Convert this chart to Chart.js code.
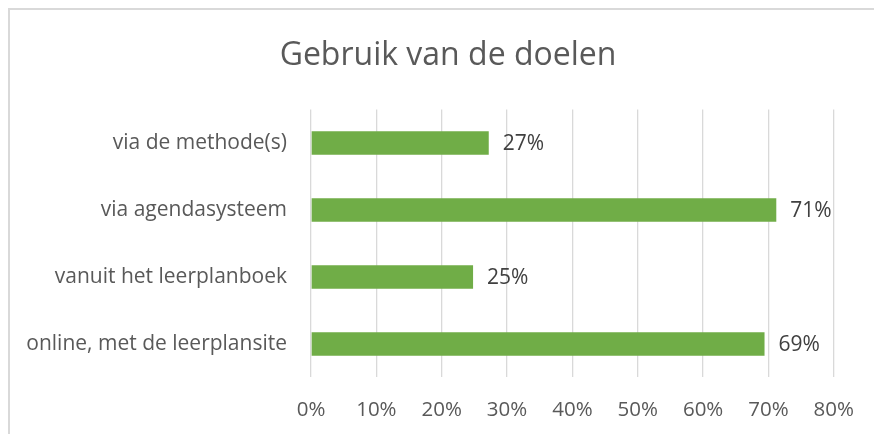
<!DOCTYPE html>
<html>
<head>
<meta charset="utf-8">
<script src="https://cdn.jsdelivr.net/npm/chart.js@4"></script>
<style>
  html, body { margin: 0; padding: 0; background: #fff; overflow: hidden; }
  #wrap { position: relative; width: 874px; height: 434px; }
  #frame { position: absolute; left: 8px; top: 8px; width: 900px; height: 500px;
           border-left: 2px solid #D9D9D9; border-top: 2px solid #D9D9D9; }
  canvas { position: absolute; left: 0; top: 0; }
</style>
</head>
<body>
<div id="wrap">
  <div id="frame"></div>
  <canvas id="Doelen-chart" width="874" height="434"></canvas>
</div>
<script>
const CATEGORIEEN = ["via de methode(s)", "via agendasysteem", "vanuit het leerplanboek", "online, met de leerplansite"];
const WAARDEN = [27.2, 71.2, 24.8, 69.4];
const TICKS = [0, 10, 20, 30, 40, 50, 60, 70, 80];

const GROEN = "#70AD47";
const GRIJS_TEKST = "#595959";
const LINKS = 58;

// labels achter de balken
const waardeLabels = {
    id: "waardeLabels",
    afterDatasetsDraw(chart) {
        const ctx = chart.ctx;
        const meta = chart.getDatasetMeta(0);
        ctx.save();
        ctx.font = "21px 'Open Sans'";
        ctx.fillStyle = "#404040";
        ctx.textAlign = "left";
        ctx.textBaseline = "middle";
        meta.data.forEach((bar, i) => {
            ctx.fillText(Math.round(WAARDEN[i]) + "%", bar.x + 14, bar.y + 1);
        });
        ctx.restore();
    }
};

// lange categorielabels niet afknippen aan de linkerkant
const geenKnip = {
    id: "geenKnip",
    afterLayout(chart) {
        chart.scales.y.left = 0;
    }
};

var ctx1 = document.getElementById("Doelen-chart").getContext("2d");
var myChart1 = new Chart(ctx1, {
    type: "bar",
    data: {
        labels: CATEGORIEEN,
        datasets: [{
            data: WAARDEN,
            backgroundColor: GROEN,
            categoryPercentage: 1,
            barPercentage: 0.35
        }]
    },
    options: {
        indexAxis: "y",
        responsive: false,
        animation: false,
        layout: {
            padding: { left: LINKS, right: 36, top: 0, bottom: -8 }
        },
        plugins: {
            legend: { display: false },
            tooltip: { enabled: false },
            title: {
                display: true,
                text: "Gebruik van de doelen",
                color: GRIJS_TEKST,
                font: { family: "'Open Sans'", size: 32, weight: "normal" },
                padding: { top: 37, bottom: 34 }
            }
        },
        scales: {
            x: {
                min: 0,
                max: 80,
                afterBuildTicks: s => { s.ticks = TICKS.map(v => ({ value: v })); },
                ticks: {
                    color: GRIJS_TEKST,
                    font: { family: "'Open Sans'", size: 20.5 },
                    padding: 20,
                    callback: v => v + "%"
                },
                grid: { color: "#D9D9D9", lineWidth: 1.3, drawTicks: false },
                border: { display: false }
            },
            y: {
                afterFit: s => { s.width = 311 - LINKS; },
                ticks: {
                    color: GRIJS_TEKST,
                    font: { family: "'Open Sans'", size: 21 },
                    padding: 16
                },
                grid: { display: false },
                border: { display: false }
            }
        }
    },
    plugins: [waardeLabels, geenKnip]
});
</script>
</body>
</html>
